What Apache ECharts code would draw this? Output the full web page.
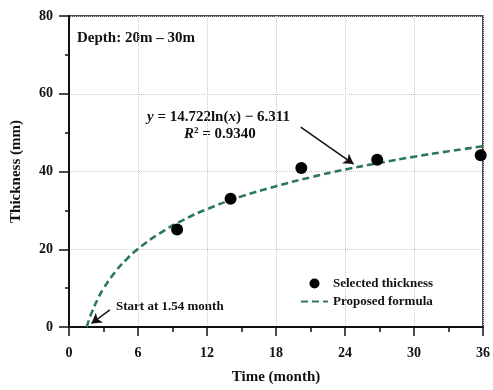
<!DOCTYPE html>
<html><head><meta charset="utf-8">
<script src="https://cdn.jsdelivr.net/npm/echarts@6/dist/echarts.min.js"></script>
<style>html,body{margin:0;padding:0;background:#fff}#c{width:493px;height:390px}</style>
</head><body><div id="c"></div>
<script>
// Measured thickness points (month, mm)
const selectedMonths = [9.4, 14.05, 20.2, 26.8, 35.8];
const selectedThickness = [25.1, 33.0, 40.9, 43.0, 44.2];
// Proposed formula curve
const formulaMonths = [1.54, 1.75, 2, 2.5, 3, 4, 5, 6, 8, 10, 12, 15, 18, 21, 24, 27, 30, 33, 36];
const formulaThickness = [0.0, 1.9, 3.9, 7.2, 9.9, 14.1, 17.4, 20.1, 24.3, 27.6, 30.3, 33.6, 36.2, 38.5, 40.5, 42.2, 43.8, 45.2, 46.5];
const xTicks = [0, 6, 12, 18, 24, 30, 36];
const yTicks = [0, 20, 40, 60, 80];
// Annotation arrows in data coordinates: [fromX, fromY, toX, toY]
const eqArrow = [20.15, 51.4, 24.75, 41.9];
const startArrow = [3.55, 4.4, 1.95, 0.9];

const FONT = 'Liberation Serif';
const green = '#2b7a55';
const chart = echarts.init(document.getElementById('c'), null, {renderer: 'canvas'});

function arrowLine(a) {
  return [{coord: [a[0], a[1]], symbol: 'none'}, {coord: [a[2], a[3]], symbol: 'arrow'}];
}

chart.setOption({
  animation: false,
  textStyle: {fontFamily: FONT},
  grid: {left: 69, right: 6, top: 16, bottom: 61, show: true, borderColor: '#111', borderWidth: 1.5, backgroundColor: 'transparent'},
  xAxis: {
    type: 'value', min: xTicks[0], max: xTicks[xTicks.length - 1], interval: 6,
    name: 'Time (month)', nameLocation: 'middle', nameGap: 43,
    nameTextStyle: {fontFamily: FONT, fontWeight: 'bold', fontSize: 15, color: '#111'},
    axisLine: {show: true, lineStyle: {color: '#111', width: 2}},
    axisTick: {show: true, length: 9, lineStyle: {color: '#111', width: 1.5}},
    minorTick: {show: true, splitNumber: 2, length: 5, lineStyle: {color: '#111', width: 1.5}},
    axisLabel: {fontFamily: FONT, fontWeight: 'bold', fontSize: 14, color: '#111', margin: 19},
    splitLine: {show: true, lineStyle: {color: '#c8c8c8', type: 'dotted', width: 1}}
  },
  yAxis: {
    type: 'value', min: yTicks[0], max: yTicks[yTicks.length - 1], interval: 20,
    name: 'Thickness (mm)', nameLocation: 'middle', nameGap: 45,
    nameTextStyle: {fontFamily: FONT, fontWeight: 'bold', fontSize: 15, color: '#111'},
    axisLine: {show: true, lineStyle: {color: '#111', width: 2}},
    axisTick: {show: true, length: 10, lineStyle: {color: '#111', width: 1.5}},
    minorTick: {show: true, splitNumber: 2, length: 4, lineStyle: {color: '#111', width: 1.5}},
    axisLabel: {fontFamily: FONT, fontWeight: 'bold', fontSize: 14, color: '#111', margin: 16},
    splitLine: {show: true, lineStyle: {color: '#c8c8c8', type: 'dotted', width: 1}}
  },
  legend: {
    orient: 'vertical', left: 295, top: 272, itemGap: 5, itemWidth: 27, itemHeight: 10,
    textStyle: {fontFamily: FONT, fontWeight: 'bold', fontSize: 13, color: '#111'},
    data: [
      {name: 'Selected thickness', icon: 'circle'},
      {name: 'Proposed formula', itemStyle: {opacity: 0}}
    ]
  },
  series: [
    {
      name: 'Proposed formula', type: 'line', smooth: true, showSymbol: false, symbol: 'none',
      data: formulaMonths.map((m, i) => [m, formulaThickness[i]]),
      lineStyle: {color: green, width: 2.6, type: [7, 4]},
      itemStyle: {color: green},
      z: 2,
      markLine: {
        silent: true, symbolSize: [9, 10], animation: false,
        label: {show: false},
        lineStyle: {color: '#111', width: 1.5, type: 'solid'},
        data: [arrowLine(eqArrow), arrowLine(startArrow)]
      }
    },
    {
      name: 'Selected thickness', type: 'scatter', symbol: 'circle', symbolSize: 12,
      data: selectedMonths.map((m, i) => [m, selectedThickness[i]]),
      itemStyle: {color: '#000', opacity: 1}, z: 3
    }
  ],
  graphic: [
    {type: 'text', left: 77, top: 31, style: {text: 'Depth: 20m – 30m', fontFamily: FONT, fontWeight: 'bold', fontSize: 15, fill: '#111'}},
    {type: 'text', left: 116, top: 300, style: {text: 'Start at 1.54 month', fontFamily: FONT, fontWeight: 'bold', fontSize: 13, fill: '#111'}},
    {type: 'text', left: 147, top: 110, style: {
      text: '{i|y} = 14.722ln({i|x}) − 6.311',
      fontFamily: FONT, fontWeight: 'bold', fontSize: 15, fill: '#111',
      rich: {i: {fontFamily: FONT, fontStyle: 'italic', fontWeight: 'bold', fontSize: 15}}
    }},
    {type: 'text', left: 184, top: 126, style: {
      text: '{i|R}{s|2} = 0.9340',
      fontFamily: FONT, fontWeight: 'bold', fontSize: 15, fill: '#111',
      rich: {i: {fontFamily: FONT, fontStyle: 'italic', fontWeight: 'bold', fontSize: 15},
             s: {fontFamily: FONT, fontWeight: 'bold', fontSize: 9, padding: [0, 0, 7, 0]}}
    }}
  ]
});
</script></body></html>
